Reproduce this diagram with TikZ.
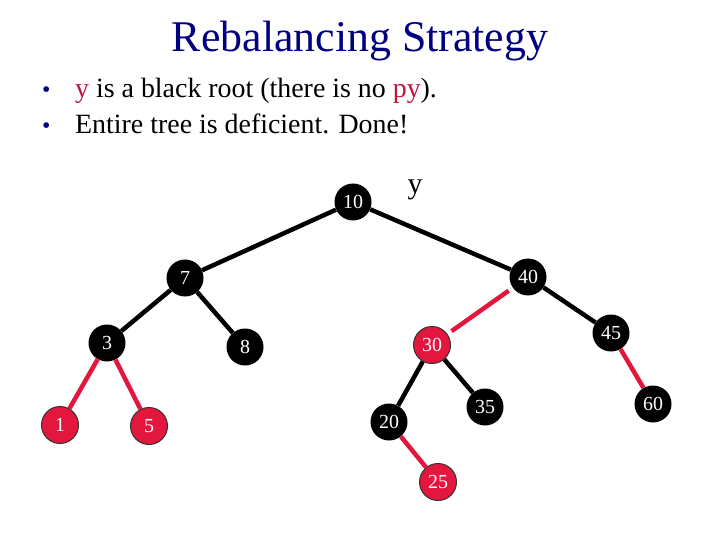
\documentclass[tikz,border=0pt]{standalone}
\usepackage{fontspec}
\setmainfont{Liberation Serif}
\usepackage{xcolor}
\usepackage{tikz}
\usetikzlibrary{positioning}
\definecolor{rbnavy}{HTML}{000080}
\definecolor{rbcrimson}{HTML}{E3173E}
\definecolor{rbtext}{HTML}{C0143C}
\tikzset{
  rbblack/.style={circle,fill=black,text=white,minimum size=37bp,inner sep=0pt,font=\fontsize{20}{20}\selectfont},
  rbred/.style={rbblack,fill=rbcrimson,draw=black!80,line width=1bp},
  rbedge/.style={line width=4.5bp,draw=black},
  rbredge/.style={line width=4.5bp,draw=rbcrimson},
  rbbullet/.style={anchor=base west,font=\fontsize{28}{28}\selectfont,inner sep=0pt}
}

\begin{document}
\begin{tikzpicture}[x=1bp,y=-1bp]
\useasboundingbox[fill=white] (0,0) rectangle (720,540);
\node[font=\fontsize{44}{44}\selectfont,text=rbnavy,anchor=base] (title) at (360,52) {Rebalancing Strategy};
\node[rbbullet,text=rbnavy,font=\fontsize{24}{24}\selectfont] (b1) at (42,98) {\textbullet};
\node[rbbullet] (l1) at (75,98) {\textcolor{rbtext}{y} is a black root (there is no \textcolor{rbtext}{py}).};
\node[rbbullet,text=rbnavy,font=\fontsize{24}{24}\selectfont] (b2) at (42,134) {\textbullet};
\node[rbbullet] (l2) at (75,134) {Entire tree is deficient. Done!};
% tree
\node[rbblack] (n10) at (353,202) {10};
\node[font=\fontsize{30}{30}\selectfont] (ylab) at (415,190) {y};
\node[rbblack] (n7) at (185,278) {7};
\node[rbblack] (n40) at (528,277) {40};
\node[rbblack] (n3) at (107,343) {3};
\node[rbblack] (n8) at (245,347) {8};
\node[rbred] (n30) at (432,345) {30};
\node[rbblack] (n45) at (611,333) {45};
\node[rbred] (n1) at (60,425) {1};
\node[rbred] (n5) at (149,426) {5};
\node[rbblack] (n20) at (389,422) {20};
\node[rbblack] (n35) at (485,407) {35};
\node[rbblack] (n60) at (653,404) {60};
\node[rbred] (n25) at (438,482) {25};
\foreach \a/\b in {n10/n7,n10/n40,n7/n3,n7/n8,n40/n45,n30/n20,n30/n35}{\draw[rbedge] (\a) -- (\b);}
\foreach \a/\b in {n3/n1,n3/n5,n45/n60,n20/n25}{\draw[rbredge] (\a) -- (\b);}
\draw[rbredge,shorten <=5bp,shorten >=5bp] (n40) -- (n30);
\end{tikzpicture}
\end{document}
